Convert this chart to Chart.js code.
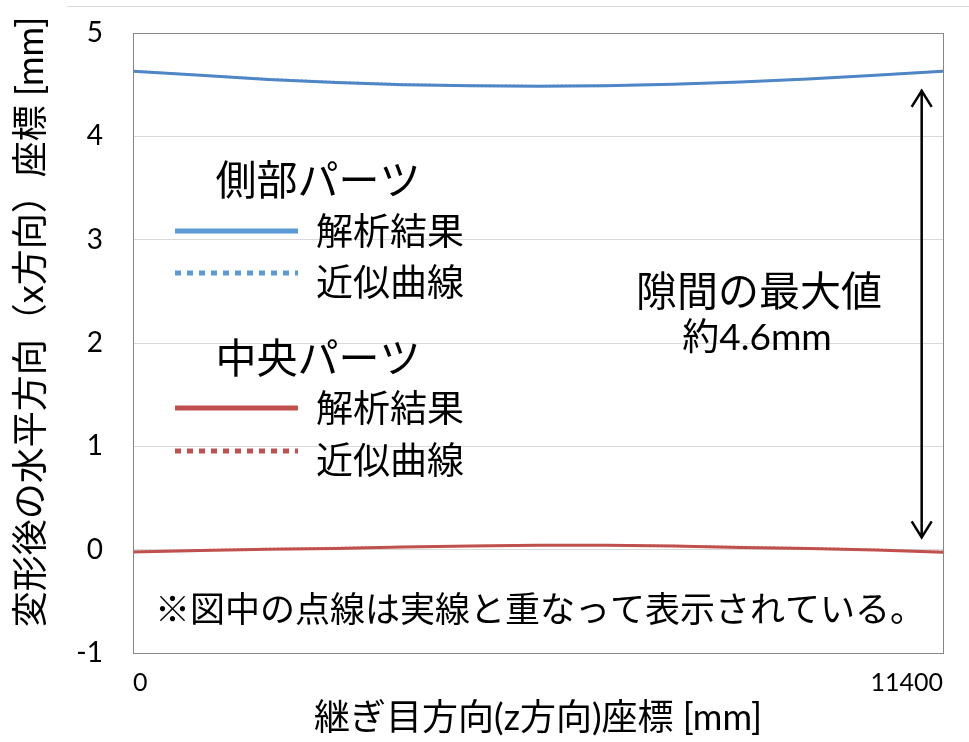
<!DOCTYPE html>
<html>
<head>
<meta charset="utf-8">
<script src="https://cdn.jsdelivr.net/npm/chart.js@4"></script>
<style>
  body { margin: 0; background: #fff; }
</style>
</head>
<body>
<canvas id="myChart" width="969" height="742"></canvas>
<script>
// 継ぎ目方向の位置 [mm]
var zPos = [0, 950, 1900, 2850, 3800, 4750, 5700, 6650, 7600, 8550, 9500, 10450, 11400];

// 側部パーツ
var sideResult = [4.63, 4.59, 4.55, 4.52, 4.50, 4.49, 4.485, 4.49, 4.505, 4.525, 4.555, 4.59, 4.63];
var sideFit    = [4.634, 4.592, 4.556, 4.527, 4.506, 4.494, 4.49, 4.494, 4.506, 4.527, 4.556, 4.592, 4.634];

// 中央パーツ
var centerResult = [-0.022, -0.008, 0.003, 0.012, 0.025, 0.035, 0.042, 0.042, 0.036, 0.022, 0.012, -0.004, -0.025];
var centerFit    = [-0.016, -0.003, 0.009, 0.019, 0.028, 0.036, 0.044, 0.044, 0.038, 0.028, 0.017, 0.002, -0.018];

var xTicks = [0, 11400];
var yMin = -1, yMax = 5;

var blue = "#4f86c6";
var red = "#c0504d";
var jp = "'Noto Sans CJK JP'";
var latin = "Lato, 'Noto Sans CJK JP'";

function pts(vals) {
  var out = [];
  for (var i = 0; i < zPos.length; i++) out.push({x: zPos[i], y: vals[i]});
  return out;
}

// 凡例・注記・矢印を描く
var extras = {
  id: "extras",
  afterDraw: function(chart) {
    var ctx = chart.ctx;
    var a = chart.chartArea;
    var xs = chart.scales.x, ys = chart.scales.y;
    ctx.save();

    // 外枠の上辺
    ctx.strokeStyle = "#d9d9d9";
    ctx.lineWidth = 1;
    ctx.beginPath();
    ctx.moveTo(67, 6.5);
    ctx.lineTo(969, 6.5);
    ctx.stroke();

    // プロットエリアの枠
    ctx.strokeStyle = "#868686";
    ctx.strokeRect(Math.round(a.left) + 0.5, Math.round(a.top) + 0.5, Math.round(a.right - a.left), Math.round(a.bottom - a.top));

    ctx.fillStyle = "#000";
    ctx.textBaseline = "middle";

    // 軸タイトル
    ctx.font = "36px " + latin;
    ctx.textAlign = "center";
    ctx.fillText("継ぎ目方向(z方向)座標 [mm]", (a.left + a.right) / 2, 718);
    ctx.save();
    ctx.translate(31, 322);
    ctx.rotate(-Math.PI / 2);
    ctx.fillText("変形後の水平方向（x方向）座標 [mm]", 0, 0);
    ctx.restore();

    // 凡例
    var ds = chart.data.datasets;
    var rows = [
      {head: "側部パーツ", hy: 179, items: [[ds[0], 231, "解析結果"], [ds[1], 273, "近似曲線"]]},
      {head: "中央パーツ", hy: 357, items: [[ds[2], 408, "解析結果"], [ds[3], 451, "近似曲線"]]}
    ];
    rows.forEach(function(r) {
      ctx.font = "41px " + jp;
      ctx.textAlign = "center";
      ctx.fillText(r.head, 318, r.hy);
      r.items.forEach(function(it) {
        var d = it[0];
        ctx.strokeStyle = d.legendColor;
        ctx.lineWidth = 5;
        ctx.setLineDash(d.borderDash && d.borderDash.length ? [6, 6] : []);
        ctx.beginPath();
        ctx.moveTo(175, it[1]);
        ctx.lineTo(298, it[1]);
        ctx.stroke();
        ctx.setLineDash([]);
        ctx.font = "37px " + jp;
        ctx.textAlign = "left";
        ctx.fillText(it[2], 316, it[1] + (it[2] == "近似曲線" ? 9 : 0));
      });
    });

    // 最大値の注記
    ctx.textAlign = "center";
    ctx.font = "41px " + jp;
    ctx.fillText("隙間の最大値", 759, 290);
    ctx.font = "37px " + latin;
    ctx.fillText("約4.6mm", 757, 338);

    ctx.font = "35px " + jp;
    ctx.fillText("※図中の点線は実線と重なって表示されている。", 540, 609);

    // 両矢印
    var ax = xs.getPixelForValue(11100);
    var y1 = ys.getPixelForValue(4.45), y2 = ys.getPixelForValue(0.11);
    ctx.strokeStyle = "#000";
    ctx.lineWidth = 2.5;
    ctx.beginPath();
    ctx.moveTo(ax, y1);
    ctx.lineTo(ax, y2);
    ctx.moveTo(ax - 10, y1 + 17);
    ctx.lineTo(ax, y1 + 1);
    ctx.lineTo(ax + 10, y1 + 17);
    ctx.moveTo(ax - 10, y2 - 17);
    ctx.lineTo(ax, y2 - 1);
    ctx.lineTo(ax + 10, y2 - 17);
    ctx.stroke();

    ctx.restore();
  }
};

var chart = new Chart("myChart", {
  type: "scatter",
  data: {
    datasets: [{
      label: "側部パーツ 解析結果",
      data: pts(sideResult),
      borderColor: blue,
      legendColor: "#5b9bd5",
      borderWidth: 3,
      showLine: true,
      pointRadius: 0,
      order: 1
    }, {
      label: "側部パーツ 近似曲線",
      data: pts(sideFit),
      borderColor: "#8db3e2",
      legendColor: "#5b9bd5",
      borderWidth: 2,
      borderDash: [2, 2],
      showLine: true,
      pointRadius: 0,
      order: 2
    }, {
      label: "中央パーツ 解析結果",
      data: pts(centerResult),
      borderColor: red,
      legendColor: red,
      borderWidth: 3,
      showLine: true,
      pointRadius: 0,
      order: 1
    }, {
      label: "中央パーツ 近似曲線",
      data: pts(centerFit),
      borderColor: "#e0a09e",
      legendColor: red,
      borderWidth: 2,
      borderDash: [2, 2],
      showLine: true,
      pointRadius: 0,
      order: 2
    }]
  },
  options: {
    responsive: false,
    animation: false,
    layout: {padding: {top: 33, right: 26, left: 0, bottom: 0}},
    plugins: {
      legend: {display: false},
      tooltip: {enabled: false}
    },
    scales: {
      x: {
        type: "linear",
        min: 0,
        max: 11400,
        afterBuildTicks: function(s) { s.ticks = xTicks.map(function(v) { return {value: v}; }); },
        afterFit: function(s) { s.height = 89; },
        grid: {display: false, drawTicks: false},
        border: {display: false},
        ticks: {
          align: "inner", padding: 15, color: "#000", maxRotation: 0,
          font: {family: "Lato", size: 25},
          callback: function(v) { return String(v); }
        }
      },
      y: {
        min: yMin,
        max: yMax,
        afterFit: function(s) { s.width = 133; s.paddingTop = 0; s.paddingBottom = 0; },
        grid: {color: "#d9d9d9", drawTicks: false},
        border: {display: false},
        ticks: {stepSize: 1, padding: 30, color: "#000", font: {family: "Lato", size: 28}}
      }
    }
  },
  plugins: [extras]
});
</script>
</body>
</html>
